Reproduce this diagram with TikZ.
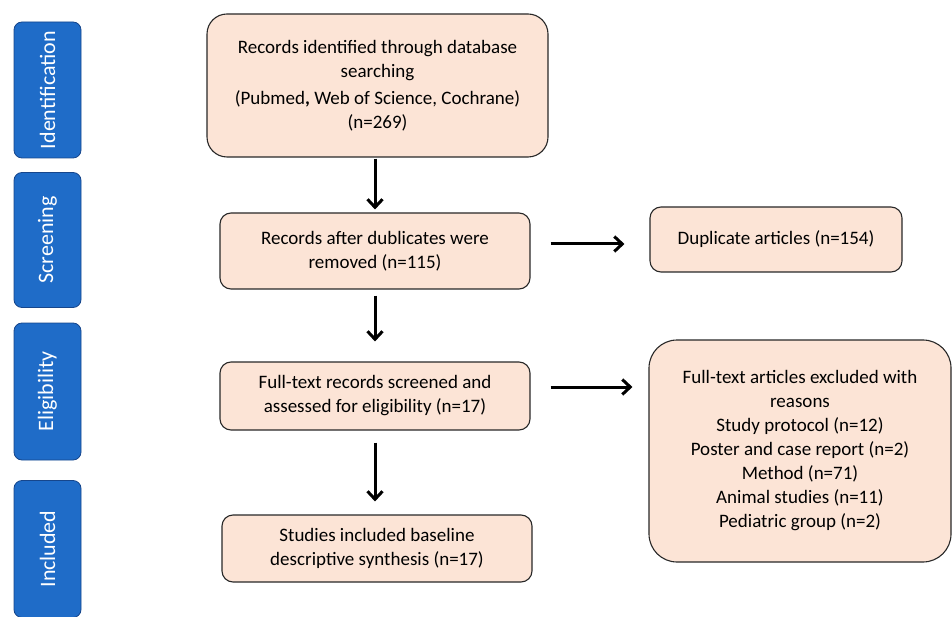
\documentclass[tikz,border=0pt]{standalone}
\usepackage{fontspec}
\setmainfont{Carlito}
\usetikzlibrary{calc,arrows.meta}
\definecolor{stageBlue}{RGB}{31,108,200}
\definecolor{stageEdge}{RGB}{22,70,140}
\definecolor{boxPeach}{RGB}{252,228,214}
\definecolor{boxEdge}{RGB}{40,40,40}
\tikzset{
  stage/.style={rounded corners=8pt,draw=stageEdge,fill=stageBlue,line width=0.8pt,
        minimum height=67pt,text=white,font=\fontsize{22}{22}\selectfont,rotate=90},
  recbox/.style={rounded corners=11pt,draw=boxEdge,fill=boxPeach,line width=1.1pt,
        align=center,inner sep=4pt,font=\fontsize{19}{24}\selectfont},
  flow/.style={-{Straight Barb[length=8pt,width=15pt]},line width=3pt,black}
}
\begin{document}
\begin{tikzpicture}[x=1pt,y=-1pt]
\useasboundingbox (0,0) rectangle (952,617);
% stages on the left
\node[stage,minimum width=136pt] (ident) at (47.5,90) {Identification};
\node[stage,minimum width=135pt] (screen) at (47.5,240) {Screening};
\node[stage,minimum width=137pt] (elig) at (47.5,391.5) {Eligibility};
\node[stage,minimum width=137pt] (incl) at (47.5,549) {Included};
% main column
\node[recbox,rounded corners=20pt,minimum width=341pt,minimum height=143pt] (recId) at (377.5,85.5)
  {Records identified through database\\ searching\\[3pt] (Pubmed\textbf{,} Web of Science, Cochrane)\\ (n=269)};
\node[recbox,minimum width=310pt,minimum height=76pt] (recDup) at (375,251)
  {Records after dublicates were\\ removed (n=115)};
\node[recbox,minimum width=310pt,minimum height=68pt] (fullText) at (375,396)
  {Full-text records screened and\\ assessed for eligibility (n=17)};
\node[recbox,minimum width=310pt,minimum height=67pt] (studInc) at (377,548.5)
  {Studies included baseline\\ descriptive synthesis (n=17)};
% side column
\node[recbox,minimum width=252pt,minimum height=65pt] (dupArt) at (776,239.5)
  {Duplicate articles (n=154)};
\node[recbox,rounded corners=28pt,minimum width=302pt,minimum height=222pt] (excl) at (800,451)
  {Full-text articles excluded with\\ reasons\\ Study protocol (n=12)\\ Poster and case report (n=2)\\
   Method (n=71)\\ Animal studies (n=11)\\ Pediatric group (n=2)};
% arrows
\draw[flow,shorten <=1pt,shorten >=3pt] (recId.south -| recDup.north) -- (recDup.north);
\draw[flow,shorten <=6pt,shorten >=20pt] (recDup.south) -- (fullText.north);
\draw[flow,shorten <=12pt,shorten >=13pt] (fullText.south) -- (fullText.south |- studInc.north);
\draw[flow,shorten <=20pt,shorten >=25pt] ([yshift=7pt]recDup.east) -- ([yshift=7pt]recDup.east -| dupArt.west);
\draw[flow,shorten <=20pt,shorten >=16pt] ([yshift=9pt]fullText.east) -- ([yshift=9pt]fullText.east -| excl.west);
\end{tikzpicture}
\end{document}
